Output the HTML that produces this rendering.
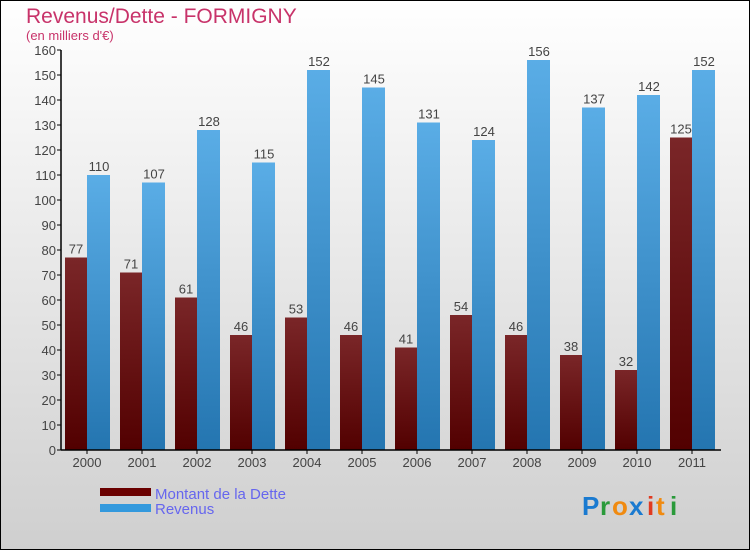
<!DOCTYPE html>
<html><head><meta charset="utf-8"><style>
body{margin:0}
svg{display:block;font-family:"Liberation Sans",sans-serif}
</style></head><body>
<svg width="750" height="550" xmlns="http://www.w3.org/2000/svg">
<defs>
<linearGradient id="bg" x1="0" y1="0" x2="0" y2="1"><stop offset="0" stop-color="#ffffff"/><stop offset="1" stop-color="#cfcfcf"/></linearGradient>
<linearGradient id="red" x1="0" y1="0" x2="0" y2="1"><stop offset="0" stop-color="#7a2628"/><stop offset="1" stop-color="#520000"/></linearGradient>
<linearGradient id="blue" x1="0" y1="0" x2="0" y2="1"><stop offset="0" stop-color="#5aade6"/><stop offset="1" stop-color="#2475b0"/></linearGradient>
</defs>
<rect x="0.5" y="0.5" width="749" height="549" fill="url(#bg)" stroke="#000"/>
<text x="26" y="23" font-size="21" fill="#c8336a">Revenus/Dette - FORMIGNY</text>
<text x="26" y="40" font-size="13" fill="#c8336a">(en milliers d'€)</text>
<g id="ticks"></g>
<g id="bars"></g>
<line x1="61" y1="50" x2="61" y2="450" stroke="#000" stroke-width="1.5"/>
<line x1="61" y1="450" x2="721" y2="450" stroke="#000" stroke-width="1.5"/>
<rect x="100" y="488" width="51" height="8" fill="#6a0000"/>
<rect x="100" y="504" width="51" height="8" fill="#3399dd"/>
<text x="155" y="499" font-size="15" fill="#6666ee">Montant de la Dette</text>
<text x="155" y="514" font-size="15" fill="#6666ee">Revenus</text>
<g font-size="26" font-weight="bold">
<text x="582" y="515" fill="#1a7ad0">P</text><text x="600" y="515" fill="#2a9a3a">r</text><text x="612" y="515" fill="#f08a10">o</text><text x="629" y="515" fill="#1a7ad0">x</text><text x="647" y="515" fill="#e03a20">i</text><text x="656" y="515" fill="#f08a10">t</text><text x="670" y="515" fill="#2a9a3a">i</text>
</g>
</svg>
<script>
const years=["2000","2001","2002","2003","2004","2005","2006","2007","2008","2009","2010","2011"];
const dette=[77,71,61,46,53,46,41,54,46,38,32,125];
const revenus=[110,107,128,115,152,145,131,124,156,137,142,152];
const yTicks=[0,10,20,30,40,50,60,70,80,90,100,110,120,130,140,150,160];
const NS="http://www.w3.org/2000/svg";
const y=v=>450-v*2.5;
const x=i=>61+55*i;
function mk(tag,attrs,parent,txt){const e=document.createElementNS(NS,tag);for(const k in attrs)e.setAttribute(k,attrs[k]);if(txt!==undefined)e.textContent=txt;parent.appendChild(e);return e;}
const tg=document.getElementById('ticks'),bg=document.getElementById('bars');
yTicks.forEach(t=>{
  const l=mk('line',{x1:57,x2:61,y1:y(t),y2:y(t),stroke:'#000'},tg);
  
  
  const tx=mk('text',{x:56,y:y(t)+5,'text-anchor':'end','font-size':13,fill:'#444'},tg,t);
  
  
});
years.forEach((yr,i)=>{
  const r=mk('rect',{x:x(i)+4,y:y(dette[i]),width:22,height:dette[i]*2.5,fill:'url(#red)'},bg);
  
  
  const b=mk('rect',{x:x(i)+26,y:y(revenus[i]),width:23,height:revenus[i]*2.5,fill:'url(#blue)'},bg);
  
  
  const l1=mk('text',{x:x(i)+15,y:y(dette[i])-4,'text-anchor':'middle','font-size':13,fill:'#444'},bg,dette[i]);
  
  
  const l2=mk('text',{x:x(i)+38,y:y(revenus[i])-4,'text-anchor':'middle','font-size':13,fill:'#444'},bg,revenus[i]);
  
  
  const tk=mk('line',{x1:x(i)+26,x2:x(i)+26,y1:450,y2:454,stroke:'#000'},bg);
  
  
  const xl=mk('text',{x:x(i)+26,y:467,'text-anchor':'middle','font-size':13,fill:'#444'},bg,yr);
  
  
});
</script>
</body></html>
